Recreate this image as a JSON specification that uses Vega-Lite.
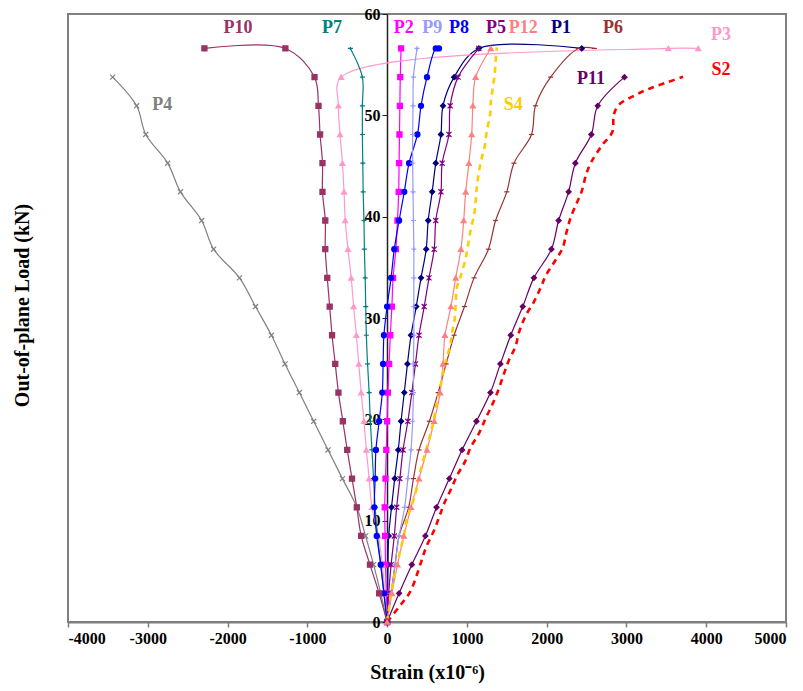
{
  "$schema": "https://vega.github.io/schema/vega-lite/v6.json",
  "width": 718,
  "height": 608,
  "autosize": {"type": "none"},
  "padding": {"left": 68, "top": 14, "right": 17, "bottom": 69},
  "background": "white",
  "config": {"view": {"stroke": "#7f7f7f", "strokeWidth": 2}, "font": "Liberation Serif"},
  "datasets": {
    "pts": [
      {"s":"P1","o":0,"x":0,"y":0},{"s":"P1","o":1,"x":5,"y":2.83},{"s":"P1","o":2,"x":10,"y":5.66},{"s":"P1","o":3,"x":20,"y":8.49},{"s":"P1","o":4,"x":55,"y":11.32},{"s":"P1","o":5,"x":95,"y":14.15},{"s":"P1","o":6,"x":140,"y":16.98},{"s":"P1","o":7,"x":175,"y":19.81},{"s":"P1","o":8,"x":215,"y":22.64},{"s":"P1","o":9,"x":255,"y":25.47},{"s":"P1","o":10,"x":300,"y":28.3},{"s":"P1","o":11,"x":365,"y":31.13},{"s":"P1","o":12,"x":425,"y":33.96},{"s":"P1","o":13,"x":490,"y":36.79},{"s":"P1","o":14,"x":515,"y":39.62},{"s":"P1","o":15,"x":565,"y":42.45},{"s":"P1","o":16,"x":610,"y":45.28},{"s":"P1","o":17,"x":675,"y":48.11},{"s":"P1","o":18,"x":700,"y":50.94},{"s":"P1","o":19,"x":840,"y":53.77},{"s":"P1","o":20,"x":1150,"y":56.6},{"s":"P1","o":21,"x":2440,"y":56.6},

      {"s":"P2","o":0,"x":0,"y":0},{"s":"P2","o":1,"x":-10,"y":2.83},{"s":"P2","o":2,"x":-20,"y":5.66},{"s":"P2","o":3,"x":-25,"y":8.49},{"s":"P2","o":4,"x":-30,"y":11.32},{"s":"P2","o":5,"x":-20,"y":14.15},{"s":"P2","o":6,"x":-10,"y":16.98},{"s":"P2","o":7,"x":0,"y":19.81},{"s":"P2","o":8,"x":10,"y":22.64},{"s":"P2","o":9,"x":25,"y":25.47},{"s":"P2","o":10,"x":40,"y":28.3},{"s":"P2","o":11,"x":60,"y":31.13},{"s":"P2","o":12,"x":75,"y":33.96},{"s":"P2","o":13,"x":110,"y":36.79},{"s":"P2","o":14,"x":130,"y":39.62},{"s":"P2","o":15,"x":145,"y":42.45},{"s":"P2","o":16,"x":150,"y":45.28},{"s":"P2","o":17,"x":155,"y":48.11},{"s":"P2","o":18,"x":160,"y":50.94},{"s":"P2","o":19,"x":165,"y":53.77},{"s":"P2","o":20,"x":175,"y":56.6},

      {"s":"P3","o":0,"x":0,"y":0},{"s":"P3","o":1,"x":-30,"y":2.83},{"s":"P3","o":2,"x":-60,"y":5.66},{"s":"P3","o":3,"x":-110,"y":8.49},{"s":"P3","o":4,"x":-190,"y":11.32},{"s":"P3","o":5,"x":-225,"y":14.15},{"s":"P3","o":6,"x":-260,"y":16.98},{"s":"P3","o":7,"x":-290,"y":19.81},{"s":"P3","o":8,"x":-325,"y":22.64},{"s":"P3","o":9,"x":-355,"y":25.47},{"s":"P3","o":10,"x":-385,"y":28.3},{"s":"P3","o":11,"x":-420,"y":31.13},{"s":"P3","o":12,"x":-450,"y":33.96},{"s":"P3","o":13,"x":-490,"y":36.79},{"s":"P3","o":14,"x":-525,"y":39.62},{"s":"P3","o":15,"x":-540,"y":42.45},{"s":"P3","o":16,"x":-560,"y":45.28},{"s":"P3","o":17,"x":-590,"y":48.11},{"s":"P3","o":18,"x":-610,"y":50.94},{"s":"P3","o":19,"x":-575,"y":53.77},{"s":"P3","o":20,"x":3525,"y":56.6},{"s":"P3","o":21,"x":3900,"y":56.6},

      {"s":"P4","o":0,"x":0,"y":0},{"s":"P4","o":1,"x":-80,"y":2.83},{"s":"P4","o":2,"x":-170,"y":5.66},{"s":"P4","o":3,"x":-270,"y":8.49},{"s":"P4","o":4,"x":-380,"y":11.32},{"s":"P4","o":5,"x":-560,"y":14.15},{"s":"P4","o":6,"x":-740,"y":16.98},{"s":"P4","o":7,"x":-920,"y":19.81},{"s":"P4","o":8,"x":-1100,"y":22.64},{"s":"P4","o":9,"x":-1280,"y":25.47},{"s":"P4","o":10,"x":-1450,"y":28.3},{"s":"P4","o":11,"x":-1650,"y":31.13},{"s":"P4","o":12,"x":-1850,"y":33.96},{"s":"P4","o":13,"x":-2175,"y":36.79},{"s":"P4","o":14,"x":-2325,"y":39.62},{"s":"P4","o":15,"x":-2590,"y":42.45},{"s":"P4","o":16,"x":-2750,"y":45.28},{"s":"P4","o":17,"x":-3025,"y":48.11},{"s":"P4","o":18,"x":-3140,"y":50.94},{"s":"P4","o":19,"x":-3440,"y":53.77},

      {"s":"P5","o":0,"x":0,"y":0},{"s":"P5","o":1,"x":20,"y":2.83},{"s":"P5","o":2,"x":50,"y":5.66},{"s":"P5","o":3,"x":90,"y":8.49},{"s":"P5","o":4,"x":120,"y":11.32},{"s":"P5","o":5,"x":160,"y":14.15},{"s":"P5","o":6,"x":200,"y":16.98},{"s":"P5","o":7,"x":260,"y":19.81},{"s":"P5","o":8,"x":310,"y":22.64},{"s":"P5","o":9,"x":355,"y":25.47},{"s":"P5","o":10,"x":400,"y":28.3},{"s":"P5","o":11,"x":465,"y":31.13},{"s":"P5","o":12,"x":525,"y":33.96},{"s":"P5","o":13,"x":590,"y":36.79},{"s":"P5","o":14,"x":610,"y":39.62},{"s":"P5","o":15,"x":675,"y":42.45},{"s":"P5","o":16,"x":690,"y":45.28},{"s":"P5","o":17,"x":775,"y":48.11},{"s":"P5","o":18,"x":790,"y":50.94},{"s":"P5","o":19,"x":890,"y":53.77},{"s":"P5","o":20,"x":1150,"y":56.6},

      {"s":"P6","o":0,"x":0,"y":0},{"s":"P6","o":1,"x":50,"y":2.83},{"s":"P6","o":2,"x":100,"y":5.66},{"s":"P6","o":3,"x":150,"y":8.49},{"s":"P6","o":4,"x":270,"y":11.32},{"s":"P6","o":5,"x":330,"y":14.15},{"s":"P6","o":6,"x":400,"y":16.98},{"s":"P6","o":7,"x":530,"y":19.81},{"s":"P6","o":8,"x":640,"y":22.64},{"s":"P6","o":9,"x":740,"y":25.47},{"s":"P6","o":10,"x":840,"y":28.3},{"s":"P6","o":11,"x":970,"y":31.13},{"s":"P6","o":12,"x":1090,"y":33.96},{"s":"P6","o":13,"x":1270,"y":36.79},{"s":"P6","o":14,"x":1360,"y":39.62},{"s":"P6","o":15,"x":1500,"y":42.45},{"s":"P6","o":16,"x":1590,"y":45.28},{"s":"P6","o":17,"x":1810,"y":48.11},{"s":"P6","o":18,"x":1860,"y":50.94},{"s":"P6","o":19,"x":2050,"y":53.77},{"s":"P6","o":20,"x":2400,"y":56.6},{"s":"P6","o":21,"x":2600,"y":56.6},

      {"s":"P7","o":0,"x":0,"y":0},{"s":"P7","o":1,"x":-40,"y":2.83},{"s":"P7","o":2,"x":-80,"y":5.66},{"s":"P7","o":3,"x":-120,"y":8.49},{"s":"P7","o":4,"x":-150,"y":11.32},{"s":"P7","o":5,"x":-170,"y":14.15},{"s":"P7","o":6,"x":-190,"y":16.98},{"s":"P7","o":7,"x":-210,"y":19.81},{"s":"P7","o":8,"x":-225,"y":22.64},{"s":"P7","o":9,"x":-245,"y":25.47},{"s":"P7","o":10,"x":-260,"y":28.3},{"s":"P7","o":11,"x":-268,"y":31.13},{"s":"P7","o":12,"x":-275,"y":33.96},{"s":"P7","o":13,"x":-285,"y":36.79},{"s":"P7","o":14,"x":-290,"y":39.62},{"s":"P7","o":15,"x":-300,"y":42.45},{"s":"P7","o":16,"x":-305,"y":45.28},{"s":"P7","o":17,"x":-310,"y":48.11},{"s":"P7","o":18,"x":-310,"y":50.94},{"s":"P7","o":19,"x":-310,"y":53.77},{"s":"P7","o":20,"x":-460,"y":56.6},

      {"s":"P8","o":0,"x":0,"y":0},{"s":"P8","o":1,"x":-40,"y":2.83},{"s":"P8","o":2,"x":-80,"y":5.66},{"s":"P8","o":3,"x":-130,"y":8.49},{"s":"P8","o":4,"x":-160,"y":11.32},{"s":"P8","o":5,"x":-150,"y":14.15},{"s":"P8","o":6,"x":-140,"y":16.98},{"s":"P8","o":7,"x":-100,"y":19.81},{"s":"P8","o":8,"x":-60,"y":22.64},{"s":"P8","o":9,"x":-50,"y":25.47},{"s":"P8","o":10,"x":-40,"y":28.3},{"s":"P8","o":11,"x":0,"y":31.13},{"s":"P8","o":12,"x":50,"y":33.96},{"s":"P8","o":13,"x":90,"y":36.79},{"s":"P8","o":14,"x":150,"y":39.62},{"s":"P8","o":15,"x":215,"y":42.45},{"s":"P8","o":16,"x":275,"y":45.28},{"s":"P8","o":17,"x":380,"y":48.11},{"s":"P8","o":18,"x":425,"y":50.94},{"s":"P8","o":19,"x":500,"y":53.77},{"s":"P8","o":20,"x":610,"y":56.6},{"s":"P8","o":21,"x":650,"y":56.6},

      {"s":"P9","o":0,"x":0,"y":0},{"s":"P9","o":1,"x":50,"y":2.83},{"s":"P9","o":2,"x":100,"y":5.66},{"s":"P9","o":3,"x":150,"y":8.49},{"s":"P9","o":4,"x":220,"y":11.32},{"s":"P9","o":5,"x":260,"y":14.15},{"s":"P9","o":6,"x":300,"y":16.98},{"s":"P9","o":7,"x":320,"y":19.81},{"s":"P9","o":8,"x":330,"y":22.64},{"s":"P9","o":9,"x":330,"y":25.47},{"s":"P9","o":10,"x":335,"y":28.3},{"s":"P9","o":11,"x":335,"y":31.13},{"s":"P9","o":12,"x":335,"y":33.96},{"s":"P9","o":13,"x":335,"y":36.79},{"s":"P9","o":14,"x":330,"y":39.62},{"s":"P9","o":15,"x":325,"y":42.45},{"s":"P9","o":16,"x":320,"y":45.28},{"s":"P9","o":17,"x":320,"y":48.11},{"s":"P9","o":18,"x":325,"y":50.94},{"s":"P9","o":19,"x":330,"y":53.77},{"s":"P9","o":20,"x":375,"y":56.6},

      {"s":"P10","o":0,"x":0,"y":0},{"s":"P10","o":1,"x":-100,"y":2.83},{"s":"P10","o":2,"x":-215,"y":5.66},{"s":"P10","o":3,"x":-325,"y":8.49},{"s":"P10","o":4,"x":-380,"y":11.32},{"s":"P10","o":5,"x":-440,"y":14.15},{"s":"P10","o":6,"x":-500,"y":16.98},{"s":"P10","o":7,"x":-555,"y":19.81},{"s":"P10","o":8,"x":-610,"y":22.64},{"s":"P10","o":9,"x":-650,"y":25.47},{"s":"P10","o":10,"x":-690,"y":28.3},{"s":"P10","o":11,"x":-720,"y":31.13},{"s":"P10","o":12,"x":-750,"y":33.96},{"s":"P10","o":13,"x":-775,"y":36.79},{"s":"P10","o":14,"x":-775,"y":39.62},{"s":"P10","o":15,"x":-810,"y":42.45},{"s":"P10","o":16,"x":-810,"y":45.28},{"s":"P10","o":17,"x":-840,"y":48.11},{"s":"P10","o":18,"x":-860,"y":50.94},{"s":"P10","o":19,"x":-910,"y":53.77},{"s":"P10","o":20,"x":-1275,"y":56.6},{"s":"P10","o":21,"x":-2290,"y":56.6},

      {"s":"P11","o":0,"x":0,"y":0},{"s":"P11","o":1,"x":150,"y":2.83},{"s":"P11","o":2,"x":310,"y":5.66},{"s":"P11","o":3,"x":480,"y":8.49},{"s":"P11","o":4,"x":620,"y":11.32},{"s":"P11","o":5,"x":780,"y":14.15},{"s":"P11","o":6,"x":940,"y":16.98},{"s":"P11","o":7,"x":1120,"y":19.81},{"s":"P11","o":8,"x":1295,"y":22.64},{"s":"P11","o":9,"x":1420,"y":25.47},{"s":"P11","o":10,"x":1550,"y":28.3},{"s":"P11","o":11,"x":1700,"y":31.13},{"s":"P11","o":12,"x":1840,"y":33.96},{"s":"P11","o":13,"x":2060,"y":36.79},{"s":"P11","o":14,"x":2150,"y":39.62},{"s":"P11","o":15,"x":2275,"y":42.45},{"s":"P11","o":16,"x":2360,"y":45.28},{"s":"P11","o":17,"x":2560,"y":48.11},{"s":"P11","o":18,"x":2640,"y":50.94},{"s":"P11","o":19,"x":2975,"y":53.77},

      {"s":"P12","o":0,"x":0,"y":0},{"s":"P12","o":1,"x":60,"y":2.83},{"s":"P12","o":2,"x":130,"y":5.66},{"s":"P12","o":3,"x":210,"y":8.49},{"s":"P12","o":4,"x":300,"y":11.32},{"s":"P12","o":5,"x":400,"y":14.15},{"s":"P12","o":6,"x":500,"y":16.98},{"s":"P12","o":7,"x":590,"y":19.81},{"s":"P12","o":8,"x":665,"y":22.64},{"s":"P12","o":9,"x":700,"y":25.47},{"s":"P12","o":10,"x":725,"y":28.3},{"s":"P12","o":11,"x":800,"y":31.13},{"s":"P12","o":12,"x":860,"y":33.96},{"s":"P12","o":13,"x":925,"y":36.79},{"s":"P12","o":14,"x":960,"y":39.62},{"s":"P12","o":15,"x":985,"y":42.45},{"s":"P12","o":16,"x":1025,"y":45.28},{"s":"P12","o":17,"x":1060,"y":48.11},{"s":"P12","o":18,"x":1075,"y":50.94},{"s":"P12","o":19,"x":1110,"y":53.77},{"s":"P12","o":20,"x":1300,"y":56.6},

      {"s":"S2","o":0,"x":0,"y":0},{"s":"S2","o":1,"x":150,"y":1.5},{"s":"S2","o":2,"x":290,"y":3},{"s":"S2","o":3,"x":425,"y":5.9},{"s":"S2","o":4,"x":490,"y":7.4},{"s":"S2","o":5,"x":575,"y":8.8},{"s":"S2","o":6,"x":650,"y":10.3},{"s":"S2","o":7,"x":710,"y":11.6},{"s":"S2","o":8,"x":800,"y":13.1},{"s":"S2","o":9,"x":880,"y":14.5},{"s":"S2","o":10,"x":975,"y":15.8},{"s":"S2","o":11,"x":1045,"y":17.2},{"s":"S2","o":12,"x":1150,"y":18.6},{"s":"S2","o":13,"x":1235,"y":20.1},{"s":"S2","o":14,"x":1315,"y":21.4},{"s":"S2","o":15,"x":1390,"y":22.8},{"s":"S2","o":16,"x":1460,"y":24.4},{"s":"S2","o":17,"x":1525,"y":25.8},{"s":"S2","o":18,"x":1610,"y":27.2},{"s":"S2","o":19,"x":1650,"y":28.5},{"s":"S2","o":20,"x":1735,"y":30.2},{"s":"S2","o":21,"x":1840,"y":31.6},{"s":"S2","o":22,"x":1925,"y":33},{"s":"S2","o":23,"x":1990,"y":34.2},{"s":"S2","o":24,"x":2110,"y":35.7},{"s":"S2","o":25,"x":2200,"y":36.9},{"s":"S2","o":26,"x":2250,"y":38.5},{"s":"S2","o":27,"x":2300,"y":39.9},{"s":"S2","o":28,"x":2380,"y":41.4},{"s":"S2","o":29,"x":2435,"y":42.4},{"s":"S2","o":30,"x":2500,"y":44.3},{"s":"S2","o":31,"x":2560,"y":45.4},{"s":"S2","o":32,"x":2690,"y":47},{"s":"S2","o":33,"x":2825,"y":48.4},{"s":"S2","o":34,"x":2840,"y":50},{"s":"S2","o":35,"x":2900,"y":51},{"s":"S2","o":36,"x":3110,"y":52},{"s":"S2","o":37,"x":3310,"y":52.7},{"s":"S2","o":38,"x":3525,"y":53.3},{"s":"S2","o":39,"x":3710,"y":53.8},

      {"s":"S4","o":0,"x":0,"y":0},{"s":"S4","o":1,"x":65,"y":3.5},{"s":"S4","o":2,"x":125,"y":5.7},{"s":"S4","o":3,"x":210,"y":8.6},{"s":"S4","o":4,"x":250,"y":10.3},{"s":"S4","o":5,"x":300,"y":11.3},{"s":"S4","o":6,"x":365,"y":13},{"s":"S4","o":7,"x":410,"y":14.7},{"s":"S4","o":8,"x":490,"y":17},{"s":"S4","o":9,"x":550,"y":18.8},{"s":"S4","o":10,"x":590,"y":20.2},{"s":"S4","o":11,"x":625,"y":21.7},{"s":"S4","o":12,"x":660,"y":22.9},{"s":"S4","o":13,"x":700,"y":24.6},{"s":"S4","o":14,"x":740,"y":25.9},{"s":"S4","o":15,"x":790,"y":27.3},{"s":"S4","o":16,"x":815,"y":28.6},{"s":"S4","o":17,"x":850,"y":30.1},{"s":"S4","o":18,"x":860,"y":31.6},{"s":"S4","o":19,"x":875,"y":33},{"s":"S4","o":20,"x":925,"y":34.2},{"s":"S4","o":21,"x":985,"y":35.9},{"s":"S4","o":22,"x":1010,"y":37},{"s":"S4","o":23,"x":1050,"y":38.8},{"s":"S4","o":24,"x":1090,"y":40.2},{"s":"S4","o":25,"x":1110,"y":41.6},{"s":"S4","o":26,"x":1125,"y":42.9},{"s":"S4","o":27,"x":1150,"y":44.4},{"s":"S4","o":28,"x":1190,"y":45.9},{"s":"S4","o":29,"x":1225,"y":47},{"s":"S4","o":30,"x":1250,"y":48.5},{"s":"S4","o":31,"x":1290,"y":50},{"s":"S4","o":32,"x":1300,"y":51.3},{"s":"S4","o":33,"x":1325,"y":52.7},{"s":"S4","o":34,"x":1350,"y":54.2},{"s":"S4","o":35,"x":1360,"y":55.3},{"s":"S4","o":36,"x":1375,"y":56.7}
    ],
    "labels": [
      {"s":"P10","x":-1870,"y":58.6},{"s":"P7","x":-690,"y":58.6},{"s":"P2","x":210,"y":58.6},{"s":"P9","x":565,"y":58.6},{"s":"P8","x":900,"y":58.6},{"s":"P5","x":1365,"y":58.6},{"s":"P12","x":1705,"y":58.6},{"s":"P1","x":2180,"y":58.6},{"s":"P6","x":2830,"y":58.6},{"s":"P3","x":4185,"y":57.9},{"s":"S2","x":4185,"y":54.5},{"s":"P11","x":2555,"y":53.6},{"s":"S4","x":1580,"y":51.0},{"s":"P4","x":-2820,"y":51.0}
    ]
  },
  "encoding": {
    "x": {
      "field": "x", "type": "quantitative",
      "scale": {"domain": [-4000, 5000], "nice": false, "zero": false},
      "axis": {
        "values": [-4000,-3000,-2000,-1000,0,1000,2000,3000,4000,5000],
        "labelExpr": "'' + datum.value",
        "grid": false,
        "labelFont": "Liberation Serif", "labelFontWeight": "bold", "labelFontSize": 16, "labelColor": "black",
        "labelPadding": 3,
        "domainColor": "#7f7f7f", "domainWidth": 2, "tickColor": "#7f7f7f", "tickWidth": 1.5, "tickSize": 5,
        "title": "Strain (x10⁻⁶)",
        "titleFont": "Liberation Serif", "titleFontWeight": "bold", "titleFontSize": 20, "titleColor": "black",
        "titleY": 50, "titleBaseline": "middle"
      }
    },
    "y": {
      "field": "y", "type": "quantitative",
      "scale": {"domain": [0, 60], "nice": false, "zero": false},
      "axis": {
        "values": [0,10,20,30,40,50,60],
        "grid": false,
        "offset": -319,
        "labelFont": "Liberation Serif", "labelFontWeight": "bold", "labelFontSize": 16, "labelColor": "black",
        "labelPadding": 2,
        "domainColor": "#222222", "domainWidth": 1.5, "tickColor": "#222222", "tickSize": 5,
        "title": "Out-of-plane Load (kN)",
        "titleFont": "Liberation Serif", "titleFontWeight": "bold", "titleFontSize": 20, "titleColor": "black",
        "titleX": -365, "titleY": 291, "titleAngle": -90, "titleAlign": "center", "titleBaseline": "middle"
      }
    }
  },
  "layer": [
    {
      "data": {"name": "pts"},
      "transform": [{"filter": "datum.s != 'S2' && datum.s != 'S4'"}],
      "mark": {"type": "line", "strokeWidth": 1.2, "interpolate": "catmull-rom"},
      "encoding": {
        "color": {"field": "s", "type": "nominal", "legend": null,
          "scale": {"domain": ["P1","P2","P3","P4","P5","P6","P7","P8","P9","P10","P11","P12","S2","S4"],
                    "range": ["#000080","#FF00FF","#FF99CC","#808080","#800080","#993333","#008080","#0000FF","#9999FF","#993366","#660066","#FF8080","#FF0000","#FFCC00"]}},
        "detail": {"field": "s"},
        "order": {"field": "o", "type": "quantitative"}
      }
    },
    {
      "data": {"name": "pts"},
      "transform": [{"filter": "datum.s == 'S2' || datum.s == 'S4'"}],
      "mark": {"type": "line", "strokeWidth": 2.6, "strokeDash": [6, 5], "interpolate": "catmull-rom"},
      "encoding": {
        "color": {"field": "s", "type": "nominal", "legend": null},
        "detail": {"field": "s"},
        "order": {"field": "o", "type": "quantitative"}
      }
    },
    {
      "data": {"name": "pts"},
      "transform": [{"filter": "datum.s != 'S2' && datum.s != 'S4'"}],
      "mark": {"type": "point", "filled": true, "size": 26, "strokeWidth": 1.2, "opacity": 1},
      "encoding": {
        "color": {"field": "s", "type": "nominal", "legend": null},
        "stroke": {"field": "s", "type": "nominal", "legend": null,
          "scale": {"domain": ["P1","P2","P3","P4","P5","P6","P7","P8","P9","P10","P11","P12","S2","S4"],
                    "range": ["#000080","#FF00FF","#FF99CC","#808080","#800080","#993333","#008080","#0000FF","#9999FF","#993366","#660066","#FF8080","#FF0000","#FFCC00"]}},
        "shape": {"field": "s", "type": "nominal", "legend": null,
          "scale": {"domain": ["P1","P2","P3","P4","P5","P6","P7","P8","P9","P10","P11","P12"],
                    "range": ["diamond","square","triangle-up","M-1,-1L1,1M-1,1L1,-1","M-1,-1L1,1M-1,1L1,-1M0,-1L0,1","M-1,0L1,0","M-1,0L1,0M0,-0.6L0,0.6","circle","M-1,0L1,0M0,-1L0,1","square","diamond","triangle-up"]}}
      }
    },
    {
      "data": {"name": "labels"},
      "mark": {"type": "text", "font": "Liberation Serif", "fontWeight": "bold", "fontSize": 18, "align": "center", "baseline": "middle"},
      "encoding": {
        "text": {"field": "s"},
        "color": {"field": "s", "type": "nominal", "legend": null}
      }
    }
  ]
}
